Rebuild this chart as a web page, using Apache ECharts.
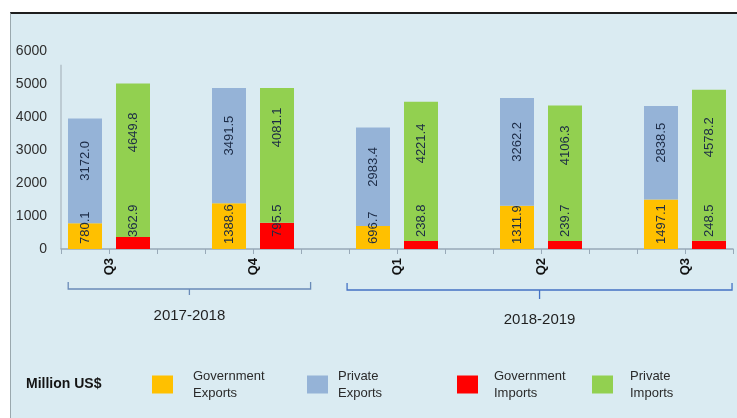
<!DOCTYPE html>
<html>
<head>
<meta charset="utf-8">
<script src="https://cdn.jsdelivr.net/npm/echarts@6/dist/echarts.min.js"></script>
<style>
  html, body { margin: 0; padding: 0; background: #ffffff; }
  #frame {
    position: absolute; left: 10px; top: 12px; width: 727px; height: 406px;
    background: #daebf2; border-top: 2px solid #1e1e1e; border-left: 1px solid #9aa8ae;
    box-sizing: border-box;
  }
  #chart { position: absolute; left: 0; top: 0; width: 737px; height: 418px; }
</style>
</head>
<body>
<div id="frame"></div>
<div id="chart"></div>
<script>
// Quarterly trade, million US$
const quarters = ['Q3', 'Q4', 'Q1', 'Q2', 'Q3'];
const govExports = [780.1, 1388.6, 696.7, 1311.9, 1497.1];
const privExports = [3172.0, 3491.5, 2983.4, 3262.2, 2838.5];
const govImports = [362.9, 795.5, 238.8, 239.7, 248.5];
const privImports = [4649.8, 4081.1, 4221.4, 4106.3, 4578.2];
const years = ['2017-2018', '2018-2019'];
const quartersPerYear = [2, 3];
const yTicks = [0, 1000, 2000, 3000, 4000, 5000, 6000];
const seriesNames = ['Government Exports', 'Private Exports', 'Government Imports', 'Private Imports'];

// Each quarter takes three slots on the category axis: exports, imports, spacer
const nQ = quarters.length;
const slotCount = nQ * 3 - 1;
const slots = [];
for (let i = 0; i < slotCount; i++) slots.push('s' + i);

function placeAt(values, offset) {
  const arr = new Array(slotCount).fill('-');
  values.forEach((v, i) => { arr[i * 3 + offset] = v; });
  return arr;
}

// Quarter names sit on the boundary between the two bars of each quarter
const boundaryLabels = new Array(slotCount + 1).fill('');
quarters.forEach((q, i) => { boundaryLabels[i * 3 + 1] = q; });

const FONT = 'Liberation Sans, Arial, sans-serif';
const labelColor = '#1c2b45';
const colors = ['#ffc000', '#95b3d7', '#ff0000', '#92d050'];

function valueLabel(extra) {
  return Object.assign({
    show: true,
    rotate: 90,
    color: labelColor,
    fontFamily: FONT,
    fontSize: 13,
    formatter: p => Number(p.value).toFixed(1)
  }, extra);
}

const chart = echarts.init(document.getElementById('chart'), null, { renderer: 'canvas' });

const legendLeft = [147, 302, 452, 587];
const legendPad = [15, 5, 11, 12];

const option = {
  backgroundColor: 'transparent',
  animation: false,
  title: {
    text: 'Million US$',
    left: 21, top: 372,
    textStyle: { fontFamily: FONT, fontSize: 14, fontWeight: 'bold', color: '#141414' }
  },
  legend: seriesNames.map((n, i) => ({
    data: [n],
    left: legendLeft[i],
    top: 360,
    icon: 'rect',
    itemWidth: 21,
    itemHeight: 18,
    selectedMode: false,
    formatter: name => name.replace(' ', '\n'),
    textStyle: {
      fontFamily: FONT, fontSize: 13, color: '#2a2a2a', lineHeight: 17,
      padding: [5, 0, 0, legendPad[i]]
    }
  })),
  grid: { left: 61, right: 4, top: 51, bottom: 169, containLabel: false },
  xAxis: [
    {
      type: 'category',
      data: slots,
      boundaryGap: true,
      axisLine: { show: true, lineStyle: { color: '#98a9b8', width: 1.5 } },
      axisTick: { show: true, interval: 0, length: 5, lineStyle: { color: '#98a9b8' } },
      axisLabel: { show: false }
    },
    {
      type: 'category',
      data: boundaryLabels,
      boundaryGap: false,
      position: 'bottom',
      axisLine: { show: false },
      axisTick: { show: false },
      axisLabel: {
        interval: 0, rotate: 90, margin: 9,
        fontFamily: FONT, fontSize: 13, fontWeight: 'bold', color: '#111111'
      }
    },
    {
      type: 'value', min: 0, max: slotCount, show: false, position: 'bottom'
    }
  ],
  yAxis: {
    type: 'value',
    min: yTicks[0],
    max: yTicks[yTicks.length - 1],
    interval: yTicks[1] - yTicks[0],
    axisLine: { show: false },
    axisTick: { show: false },
    splitLine: { show: false },
    axisLabel: {
      margin: 14, fontFamily: FONT, fontSize: 14, color: '#2e2e2e',
      formatter: v => String(v)
    }
  },
  series: [
    {
      name: seriesNames[0], type: 'bar', stack: 'total', barWidth: 34,
      itemStyle: { color: colors[0] },
      data: placeAt(govExports, 0),
      label: valueLabel({ position: 'insideBottom', distance: 5, align: 'left', verticalAlign: 'middle' })
    },
    {
      name: seriesNames[1], type: 'bar', stack: 'total', barWidth: 34,
      itemStyle: { color: colors[1] },
      data: placeAt(privExports, 0),
      label: valueLabel({ position: 'inside', offset: [10, 0] })
    },
    {
      name: seriesNames[2], type: 'bar', stack: 'total', barWidth: 34,
      itemStyle: { color: colors[2] },
      data: placeAt(govImports, 1),
      label: valueLabel({ position: 'insideBottom', distance: 12, align: 'left', verticalAlign: 'middle' })
    },
    {
      name: seriesNames[3], type: 'bar', stack: 'total', barWidth: 34,
      itemStyle: { color: colors[3] },
      data: placeAt(privImports, 1),
      label: valueLabel({ position: 'inside', offset: [28, 0] })
    }
  ]
};

chart.setOption(option);

// Year brackets under the quarter labels, plus the short vertical value axis line
function drawDecorations() {
  const px = v => chart.convertToPixel({ xAxisIndex: 2 }, v);
  const py = v => chart.convertToPixel({ yAxisIndex: 0 }, v);
  const base = py(0);
  const spans = [[0.15, 5.2], [5.96, 13.98]];
  const bracketColors = ['#6a8bb8', '#4472c4'];
  const graphics = [];
  years.forEach((yr, i) => {
    const [a, b] = spans[i];
    const x0 = px(a), x1 = px(b), xc = (x0 + x1) / 2;
    const y = base + 40 + i;
    graphics.push({
      type: 'polyline',
      shape: { points: [[x0, y - 7], [x0, y], [x1, y], [x1, y - 7]] },
      style: { stroke: bracketColors[i], lineWidth: 1.3, fill: null }
    });
    graphics.push({
      type: 'line',
      shape: { x1: xc, y1: y, x2: xc, y2: y + 6 + 3 * i },
      style: { stroke: bracketColors[i], lineWidth: 1.3 }
    });
    graphics.push({
      type: 'text',
      x: xc, y: y + 27 + 3 * i,
      style: {
        text: yr, fill: '#1f1f1f', font: '15px ' + FONT,
        textAlign: 'center', textVerticalAlign: 'middle'
      }
    });
  });
  const axisX = px(0);
  graphics.push({
    type: 'line',
    shape: { x1: axisX, y1: py(5580), x2: axisX, y2: base },
    style: { stroke: '#a9b6be', lineWidth: 1.2 }
  });
  chart.setOption({ graphic: graphics });
}
drawDecorations();
</script>
</body>
</html>
